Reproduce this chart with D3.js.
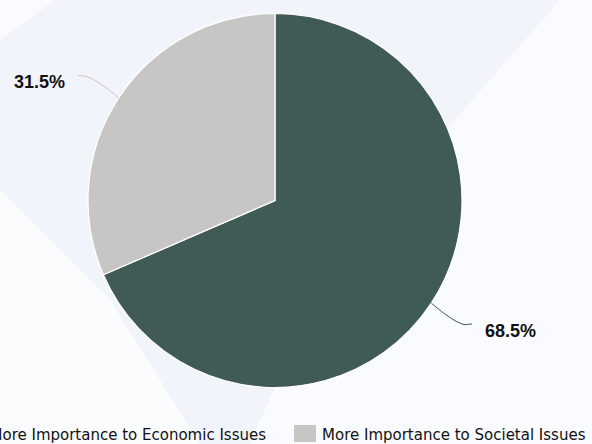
<!DOCTYPE html>
<html>
<head>
<meta charset="utf-8">
<script src="https://cdn.jsdelivr.net/npm/d3@7"></script>
<style>
  html, body { margin: 0; padding: 0; background: #fafbfe; }
  svg { display: block; }
</style>
</head>
<body>
<svg id="chart" width="592" height="444"></svg>
<script>
const categories = ["More Importance to Economic Issues", "More Importance to Societal Issues"];
const values = [68.5, 31.5];
const valueLabels = ["68.5%", "31.5%"];
const colors = ["#405b56", "#c8c6c4"];

const W = 592, H = 444;
const cx = 275, cy = 200.5, r = 187;

const svg = d3.select("#chart");

// subtle background shapes
const bg = svg.append("g");
bg.append("rect").attr("width", W).attr("height", H).attr("fill", "#fafbfe");
bg.append("path").attr("d", "M0,40 L55,0 L560,0 L420,160 L300,330 L250,444 L200,444 L0,200 Z").attr("fill", "#f1f5fb");
bg.append("path").attr("d", "M0,190 L110,300 L200,444 L0,444 Z").attr("fill", "#fbfcfe");
bg.append("path").attr("d", "M560,0 L592,0 L592,444 L300,444 L420,160 Z").attr("fill", "#fafbfe");

const g = svg.append("g").attr("transform", `translate(${cx},${cy})`);

const pie = d3.pie().sort(null).value(d => d);
const arcs = pie(values);
const arc = d3.arc().innerRadius(0).outerRadius(r);

g.selectAll("path.slice")
  .data(arcs)
  .join("path")
  .attr("class", "slice")
  .attr("d", arc)
  .attr("fill", (d, i) => colors[i])
  .attr("stroke", "#ffffff")
  .attr("stroke-width", 1.2);

// leader lines and labels
arcs.forEach((d, i) => {
  const a = (d.startAngle + d.endAngle) / 2;
  const sx = Math.sin(a), sy = -Math.cos(a);
  const p1 = [sx * r, sy * r];
  const pc = [sx * r * 1.14, sy * r * 1.14];
  const pe = [sx * r * 1.21, sy * r * 1.21];
  const side = sx >= 0 ? 1 : -1;
  const endX = side * (r + 10);
  const line = d3.path();
  line.moveTo(p1[0], p1[1]);
  line.quadraticCurveTo(pc[0], pc[1] + (pe[1] - pc[1]) * 0.6, pe[0], pe[1]);
  line.lineTo(endX, pe[1] - 0.8);
  g.append("path")
    .attr("d", line.toString())
    .attr("fill", "none")
    .attr("stroke", colors[i])
    .attr("stroke-width", 1);
  g.append("text")
    .attr("x", endX + side * 13)
    .attr("y", pe[1] + 12)
    .attr("text-anchor", side > 0 ? "start" : "end")
    .attr("font-family", "'Liberation Sans', Arial, sans-serif")
    .attr("font-weight", "bold")
    .attr("font-size", 18)
    .attr("fill", "#111111")
    .text(valueLabels[i]);
});

// legend
const legend = svg.append("g");
const sw = 22, sh = 17, gapText = 6, gapItem = 28;
const items = legend.selectAll("g.item").data(categories).join("g").attr("class", "item");
items.append("rect")
  .attr("width", sw).attr("height", sh)
  .attr("fill", (d, i) => colors[i]);
items.append("text")
  .attr("x", sw + gapText)
  .attr("y", sh / 2 + 1.5)
  .attr("dy", "0.35em")
  .attr("font-family", "'DejaVu Sans', sans-serif")
  .attr("font-size", 15)
  .attr("fill", "#111111")
  .text(d => d);
let widths = [];
items.each(function () {
  widths.push(sw + gapText + this.querySelector("text").getComputedTextLength());
});
const total = d3.sum(widths) + gapItem * (widths.length - 1);
let x0 = cx - total / 2 - 1.5;
items.attr("transform", (d, i) => {
  const x = x0 + d3.sum(widths.slice(0, i)) + gapItem * i;
  return `translate(${x},425)`;
});
</script>
</body>
</html>
